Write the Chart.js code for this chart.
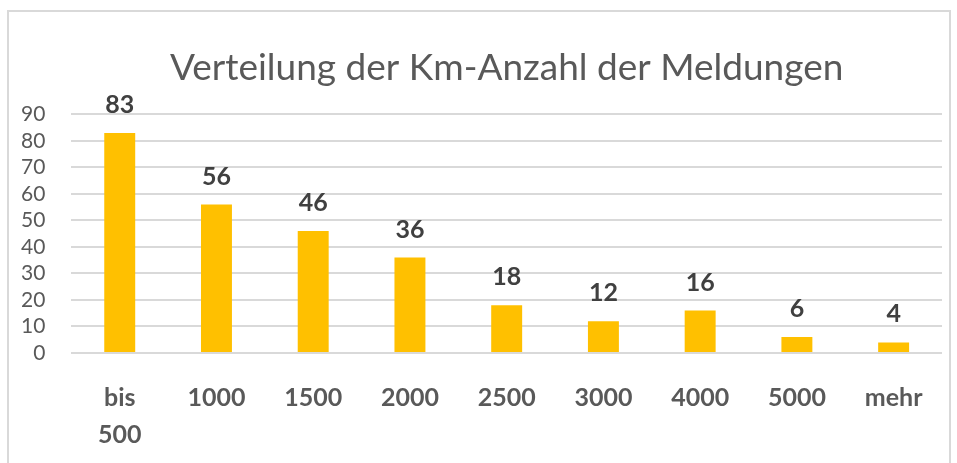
<!DOCTYPE html>
<html>
<head>
<meta charset="utf-8">
<script src="https://cdn.jsdelivr.net/npm/chart.js@4.4.1/dist/chart.umd.min.js"></script>
<style>
  html, body { margin: 0; padding: 0; background: #fff; overflow: hidden; }
  #frame { position: absolute; left: 7px; top: 10px; width: 940px; height: 470px; border: 2px solid #d9d9d9; }
  #wrap { position: absolute; left: -11px; top: 0; width: 968px; height: 480px; }
</style>
</head>
<body>
<div id="frame"></div>
<div id="wrap"><canvas id="chart"></canvas></div>
<script>
  var categories = [["bis", "500"], "1000", "1500", "2000", "2500", "3000", "4000", "5000", "mehr"];
  var counts = [83, 56, 46, 36, 18, 12, 16, 6, 4];
  var chartTitle = "Verteilung der Km-Anzahl der Meldungen";

  // value labels above each bar
  var barLabels = {
    id: "barLabels",
    afterDatasetsDraw: function (chart) {
      var ctx = chart.ctx;
      var meta = chart.getDatasetMeta(0);
      ctx.save();
      ctx.font = "bold 25px Lato";
      ctx.fillStyle = "#404040";
      ctx.textAlign = "center";
      ctx.textBaseline = "alphabetic";
      meta.data.forEach(function (bar, i) {
        ctx.fillText(String(counts[i]), bar.x, bar.y - 20);
      });
      ctx.restore();
    }
  };

  var ctx = document.getElementById("chart").getContext("2d");
  new Chart(ctx, {
    type: "bar",
    data: {
      labels: categories,
      datasets: [
        {
          label: "Meldungen",
          data: counts,
          backgroundColor: "#FFC000",
          categoryPercentage: 1,
          barPercentage: 0.32
        }
      ]
    },
    options: {
      responsive: true,
      maintainAspectRatio: false,
      animation: false,
      layout: { padding: { left: 6, right: 15, top: 0, bottom: 0 } },
      scales: {
        x: {
          grid: { display: false, drawTicks: false },
          border: { display: false },
          ticks: {
            color: "#595959",
            font: { family: "Lato", size: 25, weight: "bold", lineHeight: 1.5 },
            padding: 26,
            maxRotation: 0,
            autoSkip: false
          }
        },
        y: {
          min: 0,
          max: 90,
          grid: { color: "#d9d9d9", lineWidth: 2, drawTicks: false },
          border: { display: false },
          ticks: {
            stepSize: 10,
            autoSkip: false,
            color: "#595959",
            font: { family: "Lato", size: 21 },
            padding: 26
          }
        }
      },
      plugins: {
        legend: { display: false },
        tooltip: { enabled: false },
        title: {
          display: true,
          fullSize: false,
          text: chartTitle,
          color: "#595959",
          font: { family: "Lato", size: 37, weight: "normal" },
          padding: { top: 46, bottom: 24 }
        }
      }
    },
    plugins: [barLabels]
  });
</script>
</body>
</html>
